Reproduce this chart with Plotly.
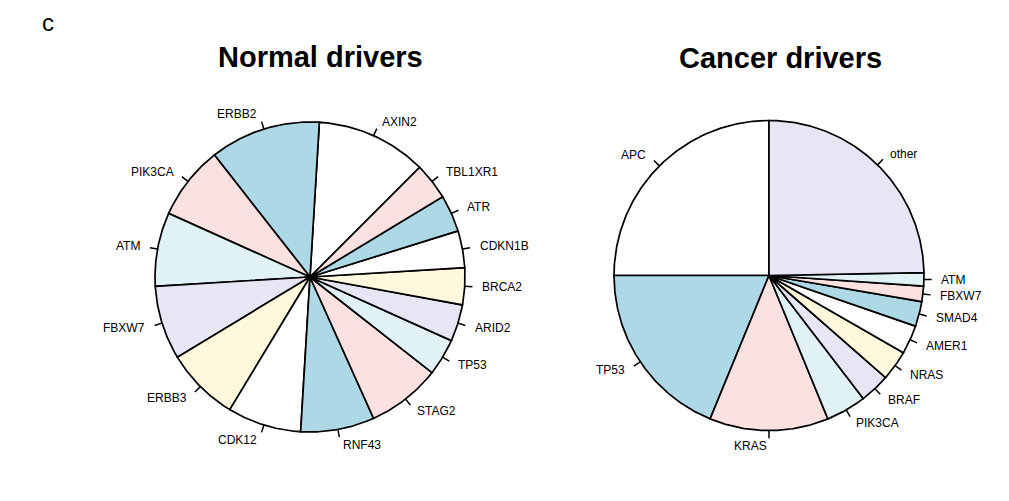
import numpy as np
import plotly.graph_objects as go

# Driver gene counts in normal tissue (sorted, decreasing)
normal_genes = ["AXIN2", "ERBB2", "PIK3CA", "ATM", "FBXW7", "ERBB3", "CDK12",
                "RNF43", "STAG2", "TP53", "ARID2", "BRCA2", "CDKN1B", "ATR", "TBL1XR1"]
normal_counts = [3, 3, 2, 2, 2, 2, 2, 2, 2, 1, 1, 1, 1, 1, 1]

# Driver gene shares (%) in cancer
cancer_genes = ["APC", "TP53", "KRAS", "PIK3CA", "BRAF", "NRAS", "AMER1",
                "SMAD4", "FBXW7", "ATM", "other"]
cancer_pct = [25.0, 18.8, 12.4, 4.2, 3.15, 3.15, 3.0, 2.6, 1.6, 1.4, 24.7]

# base-R pie palette, recycled over slices
palette = ["#FFFFFF", "#ADD8E6", "#FCE1E1", "#E1F2F7", "#E6E6F5", "#FFF8DC"]

W, H = 1009, 501
FONT = "Liberation Sans, Arial, Helvetica, sans-serif"

fig = go.Figure()
annotations = []


def add_pie(values, labels, start_deg, xa, ya):
    vals = np.asarray(values, dtype=float)
    frac = vals / vals.sum()
    edges = start_deg + 360.0 * np.concatenate([[0.0], np.cumsum(frac)])
    xref = "x" if xa == "x1" else xa
    yref = "y" if ya == "y1" else ya
    for i, lab in enumerate(labels):
        a0, a1 = edges[i], edges[i + 1]
        n = max(int(abs(a1 - a0) * 2), 4)
        t = np.radians(np.linspace(a0, a1, n))
        xs = np.concatenate([[0.0], np.cos(t), [0.0]])
        ys = np.concatenate([[0.0], np.sin(t), [0.0]])
        fig.add_trace(go.Scatter(
            x=xs, y=ys, mode="lines", fill="toself",
            fillcolor=palette[i % len(palette)],
            line=dict(color="black", width=1.7),
            xaxis=xref, yaxis=yref, hoverinfo="skip", showlegend=False))
    # tick marks and labels at slice mid-angles
    mids = np.radians((edges[:-1] + edges[1:]) / 2)
    tx, ty = [], []
    for m in mids:
        tx += [np.cos(m), 1.05 * np.cos(m), None]
        ty += [np.sin(m), 1.05 * np.sin(m), None]
    fig.add_trace(go.Scatter(
        x=tx, y=ty, mode="lines", line=dict(color="black", width=1.5),
        xaxis=xref, yaxis=yref, hoverinfo="skip", showlegend=False))
    for lab, m in zip(labels, mids):
        c = np.cos(m)
        annotations.append(dict(
            x=1.1 * c, y=1.1 * np.sin(m), xref=xref, yref=yref,
            text=lab, showarrow=False,
            xanchor="left" if c > 0 else "right", yanchor="middle",
            font=dict(family=FONT, size=12, color="black")))


add_pie(normal_counts, normal_genes, 45.0, "x1", "y1")
add_pie(cancer_pct, cancer_genes, 90.0, "x2", "y2")


def dom_x(cx, half):
    return [(cx - half) / W, (cx + half) / W]


def dom_y(cy, half):
    return [1 - (cy + half) / H, 1 - (cy - half) / H]


R_PX = 155.0
SPAN = 1.4
half = R_PX * SPAN

axis_style = dict(visible=False, showgrid=False, zeroline=False, fixedrange=True)
fig.update_layout(
    width=W, height=H,
    margin=dict(l=0, r=0, t=0, b=0),
    paper_bgcolor="white", plot_bgcolor="white",
    xaxis=dict(domain=dom_x(310, half), range=[-SPAN, SPAN], **axis_style),
    yaxis=dict(domain=dom_y(277, half), range=[-SPAN, SPAN], **axis_style),
    xaxis2=dict(domain=dom_x(769, half), range=[-SPAN, SPAN], **axis_style),
    yaxis2=dict(domain=dom_y(275.5, half), range=[-SPAN, SPAN], anchor="x2", **axis_style),
)
fig.layout.xaxis2.anchor = "y2"

annotations += [
    dict(x=320.5 / W, y=1 - 57 / H, xref="paper", yref="paper",
         text="<b>Normal drivers</b>", showarrow=False,
         xanchor="center", yanchor="middle",
         font=dict(family=FONT, size=29, color="black")),
    dict(x=780 / W, y=1 - 58.5 / H, xref="paper", yref="paper",
         text="<b>Cancer drivers</b>", showarrow=False,
         xanchor="center", yanchor="middle",
         font=dict(family=FONT, size=29, color="black")),
    dict(x=48 / W, y=1 - 22 / H, xref="paper", yref="paper",
         text="c", showarrow=False,
         xanchor="center", yanchor="middle",
         font=dict(family=FONT, size=24, color="black")),
]
fig.update_layout(annotations=annotations)

fig.write_html("out.html")
